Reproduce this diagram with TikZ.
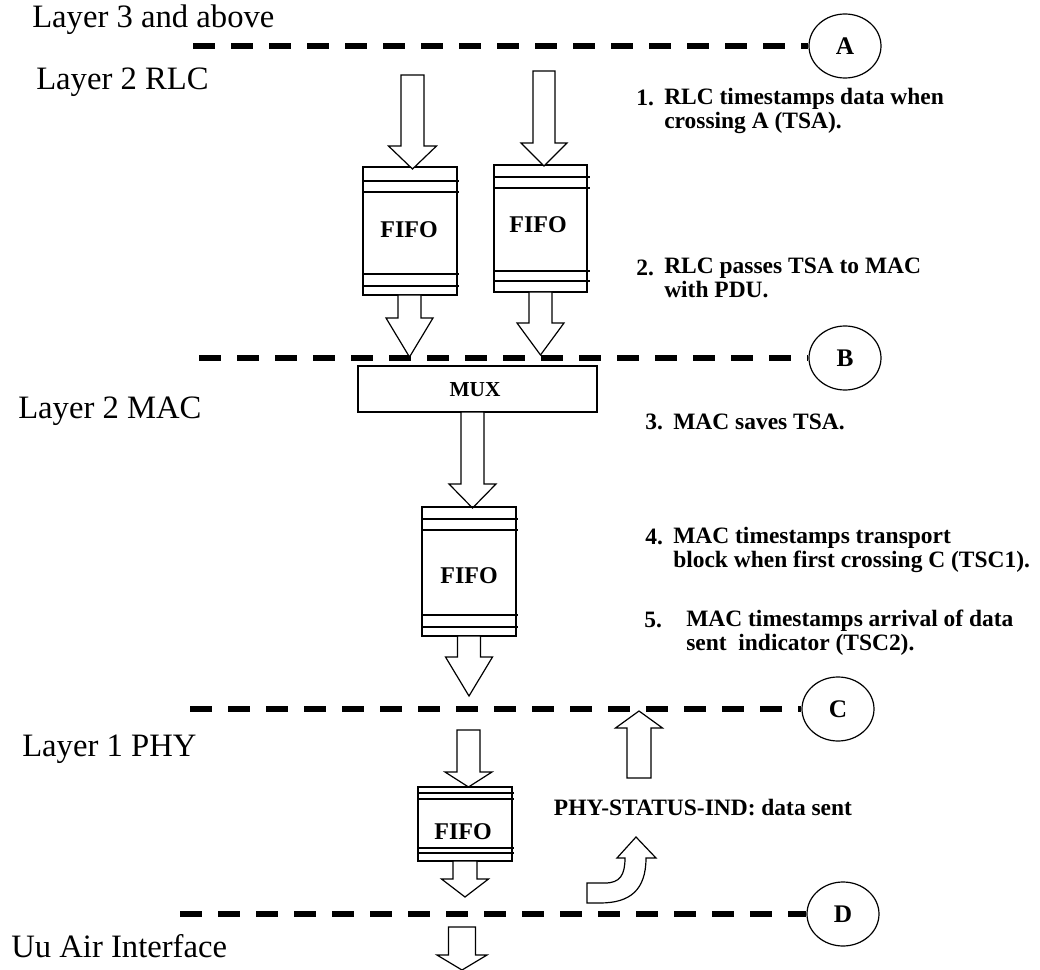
\documentclass[tikz,border=0pt]{standalone}
\usepackage{fontspec}
\setmainfont{Liberation Serif}
\usetikzlibrary{shapes.geometric}
\newcommand{\blkdown}[6]{\draw[blk] (#1-#5,#2) -- (#1+#5,#2) -- (#1+#5,#3) -- (#1+#6,#3) -- (#1,#4) -- (#1-#6,#3) -- (#1-#5,#3) -- cycle;}
\begin{document}
\begin{tikzpicture}[x=0.75pt,y=-0.75pt,
  blk/.style={draw=black, line width=0.9pt, fill=white, line join=miter},
  boxln/.style={draw=black, line width=0.9pt},
  dashline/.style={line width=3.8pt, dash pattern=on 16.5pt off 12pt},
  lay/.style={font=\fontsize{24.5}{28}\selectfont, anchor=west, inner sep=0pt},
  bt/.style={font=\bfseries\fontsize{17.6}{18}\selectfont, inner sep=0pt, anchor=west, align=left},
  fifotxt/.style={font=\bfseries\fontsize{18}{18}\selectfont, inner sep=0pt},
  circ/.style={draw, ellipse, line width=0.9pt, minimum width=54pt, minimum height=48pt, inner sep=0pt, font=\bfseries\fontsize{19}{20}\selectfont}]
\useasboundingbox (0,0) rectangle (1040,970);

% layer labels
\node[lay] (l3) at (32,20) {Layer 3 and above};
\node[lay] (l2r) at (36,82) {Layer 2 RLC};
\node[lay] (l2m) at (18,411) {Layer 2 MAC};
\node[lay] (l1) at (22,749) {Layer 1 PHY};
\node[lay] (uu) at (11,946) {Uu Air Interface};

% circles
\node[circ] (A) at (845,46) {A};
\node[circ] (B) at (845,358) {B};
\node[circ] (C) at (838,709) {C};
\node[circ] (D) at (843,914) {D};

% dashed lines
\coordinate (sa) at (193,46);
\coordinate (sb) at (199,358);
\coordinate (sc) at (190,709);
\coordinate (sd) at (180,914);
\draw[dashline] (sa) -- (A.west);
\draw[dashline] (sb) -- (B.west);
\draw[dashline] (sc) -- (C.west);
\draw[dashline] (sd) -- (D.west);

% RLC FIFOs
\draw[boxln] (363,167) rectangle (457,295);
\draw[boxln] (363,181) -- (459,181) (363,192) -- (459,192) (363,274) -- (459,274) (363,286) -- (459,286);
\node[fifotxt] (f1) at (409,230) {FIFO};
\draw[boxln] (494,165) rectangle (587,292);
\draw[boxln] (494,177) -- (590,177) (494,188) -- (590,188) (494,271) -- (590,271) (494,281) -- (590,281);
\node[fifotxt] (f2) at (538,225) {FIFO};

\blkdown{412.5}{75}{146}{169}{11.5}{24}
\blkdown{544}{71}{143}{166}{11}{23}
\blkdown{409.5}{295}{318}{357}{11.5}{23.5}
\blkdown{540.5}{292}{323}{355}{11.5}{23.5}

% MUX
\draw[boxln] (358,366) rectangle (597,412);
\node[fifotxt,font=\bfseries\fontsize{16}{16}\selectfont] (mux) at (475,390) {MUX};
\blkdown{472.5}{412}{484}{508}{11.5}{23.5}

% MAC FIFO
\draw[boxln] (422,507) rectangle (516,636);
\draw[boxln] (422,519) -- (518,519) (422,530) -- (518,530) (422,615) -- (518,615) (422,627) -- (518,627);
\node[fifotxt] (f3) at (469,576) {FIFO};
\blkdown{469}{636}{657}{696}{11.5}{23.5}

% PHY FIFO
\blkdown{468.5}{730}{772}{787}{11.5}{23.5}
\draw[boxln] (418,787) rectangle (512,861);
\draw[boxln] (418,793) -- (514,793) (418,799) -- (514,799) (418,848) -- (514,848) (418,853) -- (514,853);
\node[fifotxt] (f4) at (463,832) {FIFO};
\blkdown{465}{861}{879}{897}{12}{23.5}
\blkdown{462}{927}{955}{970}{13.5}{25}

% status arrows
\blkdown{639}{778}{728}{711}{12}{23.5}
\draw[blk] (587,883) -- (605,883) .. controls (620,883) and (625,875) .. (625,858) -- (617,858) -- (636,837) -- (656,858) -- (646,858) .. controls (646,890) and (630,903) .. (600,903) -- (587,903) -- cycle;
\node[bt,anchor=center] (st) at (703,808) {PHY-STATUS-IND: data sent};

% numbered notes
\node[bt] (n1) at (636,98) {1.};
\node[bt,anchor=north west] (t1) at (664,88) {RLC timestamps data when\\crossing A (TSA).};
\node[bt] (n2) at (636,268) {2.};
\node[bt,anchor=north west] (t2) at (664,258) {RLC passes TSA to MAC\\with PDU.};
\node[bt] (n3) at (645,422) {3.};
\node[bt] (t3) at (673,422) {MAC saves TSA.};
\node[bt] (n4) at (645,537) {4.};
\node[bt,anchor=north west] (t4) at (673,527) {MAC timestamps transport\\block when first crossing C (TSC1).};
\node[bt] (n5) at (644,620) {5.};
\node[bt,anchor=north west] (t5) at (686,610) {MAC timestamps arrival of data\\sent\ \ indicator (TSC2).};
\end{tikzpicture}
\end{document}
